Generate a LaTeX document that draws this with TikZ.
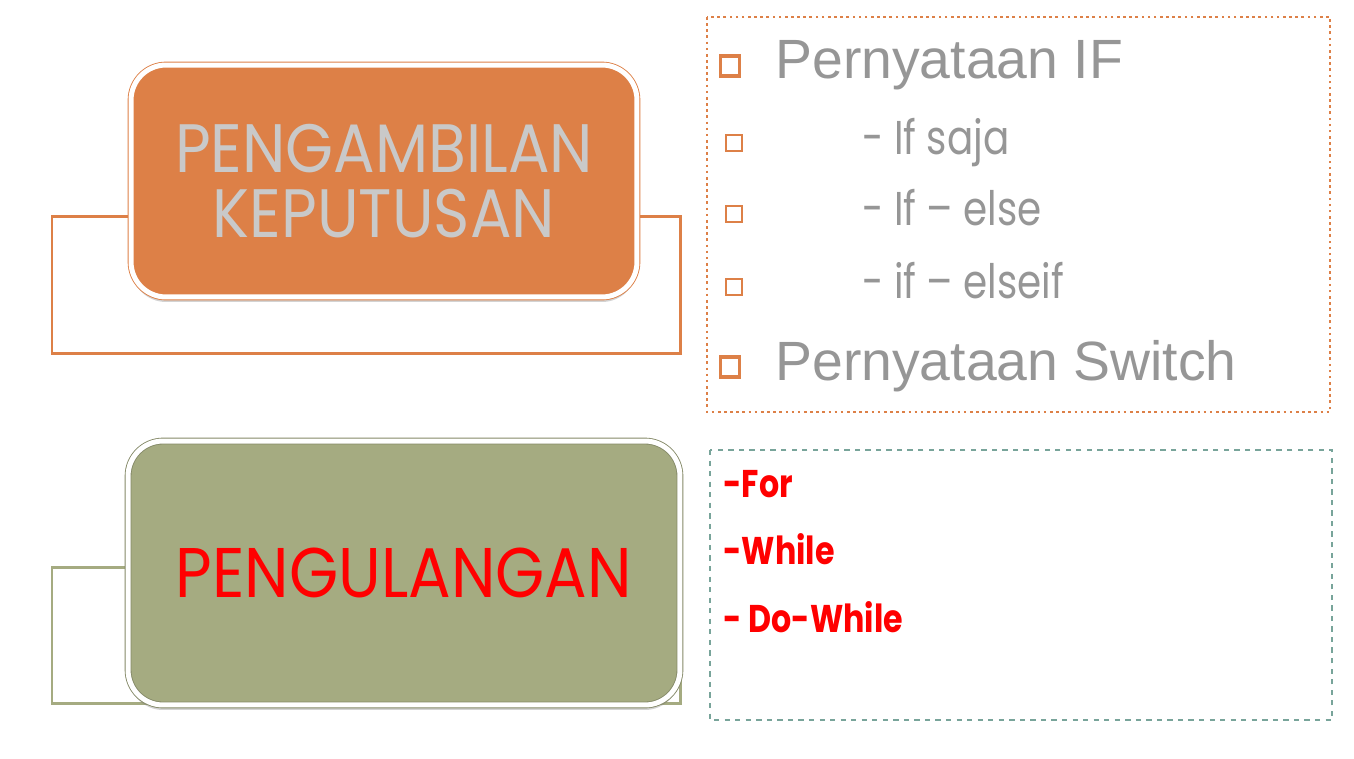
\documentclass[tikz,border=0pt]{standalone}
\usepackage{fontspec}
\setmainfont{Liberation Sans}
\newfontfamily\gothic[FakeStretch=0.9]{Poppins}
\newfontfamily\gothicnarrow[FakeStretch=0.82]{Poppins}
\usetikzlibrary{shadows}
\definecolor{boxorange}{HTML}{DD8047}
\definecolor{boxolive}{HTML}{A5AB81}
\definecolor{lineteal}{HTML}{78A49A}
\definecolor{headgray}{HTML}{C9C9C9}
\definecolor{itemgray}{HTML}{969696}
\definecolor{itemred}{HTML}{FF0000}
\tikzset{
	topicbox/.style={rectangle, rounded corners=0.7cm, line width=0.5pt, double=white, double distance=0.1cm,
		drop shadow={shadow xshift=0pt, shadow yshift=-0.1cm, opacity=0.35}, align=center, inner sep=0pt},
	bigbullet/.style={rectangle, draw=boxorange, line width=2pt, minimum width=0.38cm, minimum height=0.4cm, inner sep=0pt},
	smallbullet/.style={rectangle, draw=boxorange, line width=1.3pt, minimum size=0.32cm, inner sep=0pt},
	itemtext/.style={anchor=base west, inner sep=0pt}
}
\begin{document}
\begin{tikzpicture}[x=0.02cm,y=-0.02cm]
		\useasboundingbox (0,0) rectangle (1354,758);

		% brackets behind the boxes
		\draw[line width=1.7pt, boxorange] (52,216) rectangle (680,353);
		\draw[line width=1.7pt, boxolive] (52,567) rectangle (680,703);

		\node[topicbox, fill=boxorange, draw=boxorange, minimum width=10.12cm, minimum height=4.64cm,
			text=headgray, font=\gothic\fontsize{39}{37}\selectfont] (keputusan) at (384,181) {PENGAMBILAN\\KEPUTUSAN};
		\node[topicbox, fill=boxolive, draw=boxolive!80!black, minimum width=11.04cm, minimum height=5.28cm,
			text=itemred, font=\gothic\fontsize{40}{42}\selectfont] (pengulangan) at (404,573) {PENGULANGAN};

		% list for pengambilan keputusan
		\draw[boxorange, line width=1.5pt, dotted] (707,17) rectangle (1330,412);
		\node[bigbullet] (b1) at (730,66) {};
		\node[itemtext, text=itemgray, font=\fontsize{31.5}{34}\selectfont] (if) at (775,78) {Pernyataan IF};
		\node[smallbullet] (b2) at (734,143) {};
		\node[itemtext, text=itemgray, font=\gothicnarrow\fontsize{27}{30}\selectfont] (ifsaja) at (862,154) {- If saja};
		\node[smallbullet] (b3) at (734,214) {};
		\node[itemtext, text=itemgray, font=\gothicnarrow\fontsize{27}{30}\selectfont] (ifelse) at (862,225) {- If – else};
		\node[smallbullet] (b4) at (734,287) {};
		\node[itemtext, text=itemgray, font=\gothicnarrow\fontsize{27}{30}\selectfont] (ifelseif) at (862,298) {- if – elseif};
		\node[bigbullet] (b5) at (730,367) {};
		\node[itemtext, text=itemgray, font=\fontsize{31.5}{34}\selectfont] (switch) at (775,380) {Pernyataan Switch};

		% list for pengulangan
		\draw[lineteal, line width=1.5pt, dashed] (710,450) rectangle (1332,720);
		\node[itemtext, text=itemred, font=\gothicnarrow\bfseries\fontsize{22}{24}\selectfont] (for) at (723,497) {-For};
		\node[itemtext, text=itemred, font=\gothicnarrow\bfseries\fontsize{22}{24}\selectfont] (while) at (723,564) {-While};
		\node[itemtext, text=itemred, font=\gothicnarrow\bfseries\fontsize{22}{24}\selectfont] (dowhile) at (723,632) {- Do-While};

	\end{tikzpicture}
\end{document}
